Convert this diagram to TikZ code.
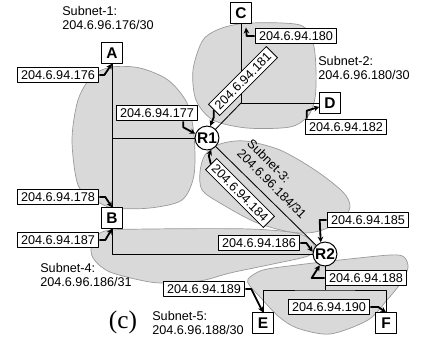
\documentclass[tikz,border=0pt]{standalone}
\usepackage{fontspec}
\setmainfont{Liberation Sans}
\newfontfamily\figserif{Liberation Serif}
\usepackage{tikz}
\usetikzlibrary{arrows.meta,calc}
\definecolor{cloud}{HTML}{D9D9D9}
\definecolor{cloudedge}{HTML}{9A9A9A}
\tikzset{net/.style={line join=round,x=0.025cm,y=-0.025cm},
  subnet/.style={fill=cloud,draw=cloudedge,line width=0.5pt},
  host/.style={draw,fill=white,line width=0.7pt,minimum size=14.5pt,inner sep=0pt,font=\fontsize{11}{12}\selectfont\bfseries},
  router/.style={circle,draw,fill=white,line width=0.7pt,minimum size=17pt,inner sep=0pt,font=\fontsize{11}{12}\selectfont\bfseries},
  addr/.style={draw,fill=white,line width=0.6pt,inner xsep=2.8pt,inner ysep=2.4pt,font=\fontsize{9}{10}\selectfont},
  wire/.style={line width=0.6pt},
  ifarrow/.style={line width=1.3pt,-{Stealth[length=4pt,width=4pt]}},
  netname/.style={align=left,inner sep=0pt,font=\fontsize{9}{10}\selectfont}}

\begin{document}
\begin{tikzpicture}[net]
  \useasboundingbox (0,0) rectangle (422,338);
  % the five subnets
  \draw[subnet] plot[smooth cycle] coordinates {(72,140) (78,100) (92,76) (112,67) (140,68) (168,80) (187,103) (194,135) (194,175) (182,200) (150,208) (113,208) (95,200) (78,185)};
  \draw[subnet] plot[smooth cycle] coordinates {(203,40) (222,28) (250,23) (300,25) (313,43) (316,70) (315,98) (308,116) (290,127) (247,128) (213,120) (196,100) (193,70)};
  \draw[subnet] plot[smooth cycle] coordinates {(200,172) (205,155) (220,144) (245,141) (280,150) (315,170) (343,192) (350,207) (340,222) (315,232) (290,232) (255,222) (220,203) (202,190)};
  \draw[subnet] plot[smooth cycle] coordinates {(92,243) (105,231) (150,229) (250,229) (300,234) (315,247) (308,256) (273,264) (230,273) (205,280) (180,283) (150,282) (110,272) (93,258)};
  \draw[subnet] plot[smooth cycle] coordinates {(248,279) (263,270) (297,265) (340,260) (390,255) (404,257) (408,268) (400,284) (387,300) (368,320) (330,334) (297,328) (278,316) (260,297) (250,286)};
  % hosts and routers
  \node[host] (A) at (112,53) {A};
  \node[host] (B) at (112,218) {B};
  \node[host] (C) at (241,13) {C};
  \node[host] (D) at (330,103) {D};
  \node[host] (E) at (263,323) {E};
  \node[host] (F) at (386,323) {F};
  \node[router] (R1) at (207,138) {R1};
  \node[router] (R2) at (325,254) {R2};
  % links
  \coordinate (hub2) at (C |- D);
  \coordinate (hub5) at ($(R2)+(0,36)$);
  \draw[wire] (A) -- (B);
  \draw[wire] (R1) -- (R1 -| A);
  \draw[wire] (C) -- (hub2) -- (D);
  \draw[wire] (R1) -- (hub2);
  \draw[wire] (R1) -- (R2);
  \draw[wire] (B) |- (R2);
  \draw[wire] (R2) -- (hub5);
  \draw[wire] (E) |- (hub5) -| (F);
  % subnet names
  \node[netname,anchor=west] (s1) at (62,18) {Subnet-1:\\204.6.96.176/30};
  \node[netname,anchor=west] (s2) at (318,68) {Subnet-2:\\204.6.96.180/30};
  \node[netname,rotate=-45] (s3) at (277,179) {Subnet-3:\\204.6.96.184/31};
  \node[netname,anchor=west] (s4) at (40,275) {Subnet-4:\\204.6.96.186/31};
  \node[netname,anchor=west] (s5) at (152,323) {Subnet-5:\\204.6.96.188/30};
  \node[font=\figserif\fontsize{18}{20}\selectfont] (tag) at (123,322) {(c)};
  % interface addresses
  \node[addr] (a176) at (58,75) {204.6.94.176};
  \node[addr] (a177) at (157,113) {204.6.94.177};
  \node[addr] (a178) at (58,197) {204.6.94.178};
  \node[addr] (a187) at (58,240) {204.6.94.187};
  \node[addr] (a180) at (296,36) {204.6.94.180};
  \node[addr,rotate=45] (a181) at (243,81) {204.6.94.181};
  \node[addr] (a182) at (346,127) {204.6.94.182};
  \node[addr,rotate=-45] (a184) at (240,193) {204.6.94.184};
  \node[addr] (a185) at (368,220) {204.6.94.185};
  \node[addr] (a186) at (259,243) {204.6.94.186};
  \node[addr] (a188) at (366,278) {204.6.94.188};
  \node[addr] (a189) at (204,289) {204.6.94.189};
  \node[addr] (a190) at (329,307) {204.6.94.190};
  % which interface each address belongs to
  \draw[ifarrow] (a176.east) -- ++(5,0) -- (A.south);
  \draw[ifarrow] (a177.south east) ++(-15,0) -- ++(0,6) -- (R1.160);
  \draw[ifarrow] (a178.east) -- ++(6,0) -- (B.north);
  \draw[ifarrow] (a187.east) -- ++(6,0) -- (B.south);
  \draw[ifarrow] (a180.west) -- ++(-8,0) -- ($(C.south)+(5,4)$);
  \draw[ifarrow] (a181.west) -- ++(0,7) -- (R1.75);
  \draw[ifarrow] (a182.north west) ++(2,0) -- ++(0,-8) -- (D.200);
  \draw[ifarrow] (a184.west) -- ++(-2,-8) -- (R1.-70);
  \draw[ifarrow] (a185.west) -- ++(-7,0) -- (R2.110);
  \draw[ifarrow] (a186.east) -- ++(6,0) -- (R2.170);
  \draw[ifarrow] (a188.west) -- ++(-13,0) -- (R2.-115);
  \draw[ifarrow] (a189.east) -- ++(6,0) -- (E.north);
  \draw[ifarrow] (a190.east) -- ++(8,0) -- (F.north);
\end{tikzpicture}
\end{document}
